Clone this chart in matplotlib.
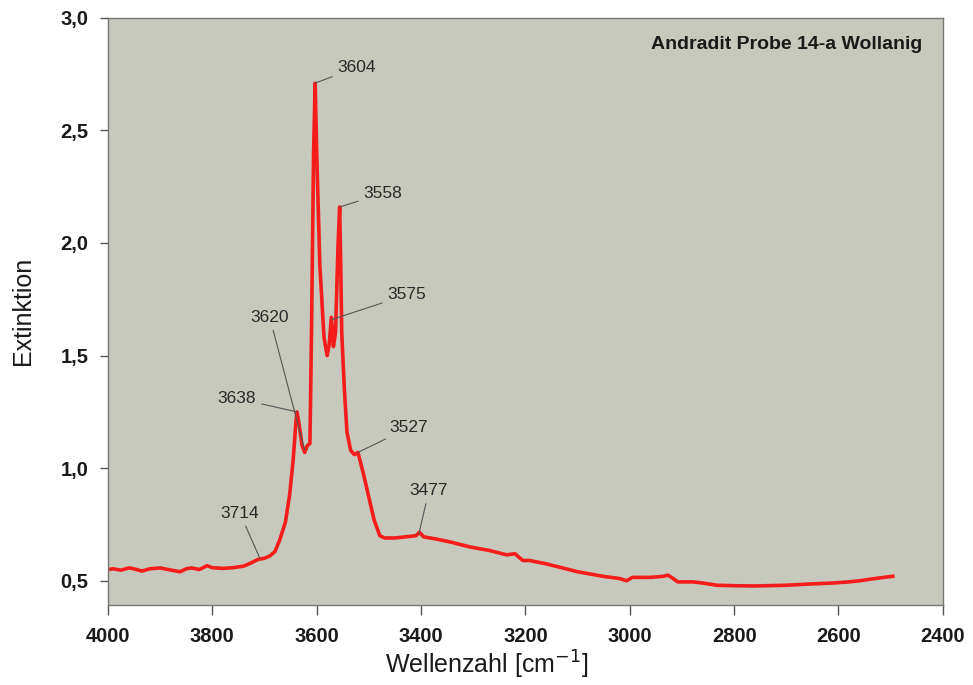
import matplotlib
matplotlib.use("Agg")
import matplotlib.pyplot as plt

# Spectrum (wavenumber cm^-1, extinction)
wavenumber = [4000, 3990, 3975, 3960, 3950, 3935, 3920, 3900, 3885, 3862, 3850, 3840,
              3825, 3810, 3800, 3780, 3760, 3740, 3725, 3712, 3700, 3690, 3680, 3671,
              3660, 3652, 3645, 3640, 3638, 3634, 3628, 3623, 3618, 3613, 3610, 3606,
              3603, 3600, 3594, 3586, 3580, 3576, 3572, 3568, 3564, 3559, 3556, 3554,
              3552, 3547, 3542, 3535, 3528, 3521, 3511, 3500, 3490, 3479, 3470, 3450,
              3430, 3410, 3403, 3395, 3370, 3340, 3306, 3270, 3236, 3220, 3210, 3205,
              3192, 3160, 3134, 3100, 3052, 3020, 3006, 2995, 2960, 2935, 2927, 2920,
              2908, 2880, 2860, 2847, 2833, 2800, 2760, 2738, 2700, 2660, 2611, 2580,
              2559, 2530, 2496]
extinction = [0.55, 0.553, 0.547, 0.557, 0.553, 0.543, 0.553, 0.557, 0.55, 0.54, 0.553, 0.557,
              0.55, 0.567, 0.558, 0.555, 0.558, 0.565, 0.58, 0.595, 0.60, 0.61, 0.63, 0.68,
              0.76, 0.88, 1.04, 1.20, 1.25, 1.20, 1.10, 1.07, 1.10, 1.11, 1.60, 2.40,
              2.71, 2.40, 1.90, 1.58, 1.50, 1.55, 1.67, 1.54, 1.60, 2.00, 2.16, 1.90,
              1.60, 1.35, 1.16, 1.08, 1.06, 1.07, 0.98, 0.87, 0.77, 0.70, 0.69, 0.69,
              0.695, 0.70, 0.715, 0.695, 0.685, 0.67, 0.65, 0.635, 0.615, 0.62, 0.60, 0.59,
              0.59, 0.575, 0.56, 0.54, 0.52, 0.51, 0.50, 0.515, 0.515, 0.52, 0.525, 0.515,
              0.495, 0.495, 0.49, 0.485, 0.48, 0.478, 0.477, 0.478, 0.48, 0.485, 0.49, 0.495,
              0.50, 0.51, 0.52]

# Peak annotations: label, point (x, y), text position (x, y)
peak_labels = ["3604", "3558", "3575", "3620", "3638", "3527", "3477", "3714"]
peak_xy = [(3603, 2.71), (3556, 2.16), (3571, 1.66), (3623, 1.08),
           (3638, 1.25), (3521, 1.07), (3404, 0.71), (3709, 0.60)]
label_xy = [(3523, 2.78), (3473, 2.22), (3427, 1.77), (3690, 1.67),
            (3753, 1.31), (3423, 1.18), (3385, 0.90), (3747, 0.80)]

x_ticks = [4000, 3800, 3600, 3400, 3200, 3000, 2800, 2600, 2400]
y_ticks = [0.5, 1.0, 1.5, 2.0, 2.5, 3.0]
y_ticklabels = ["0,5", "1,0", "1,5", "2,0", "2,5", "3,0"]
title_text = "Andradit Probe 14-a Wollanig"

plt.rcParams['font.family'] = ['Liberation Sans', 'DejaVu Sans']

fig = plt.figure(figsize=(9.73, 6.85), dpi=100)
ax = fig.add_axes([0.111, 0.117, 0.858, 0.857])
ax.set_facecolor('#c8c9bd')

ax.plot(wavenumber, extinction, color='#f51c1c', lw=2.6, solid_joinstyle='round', zorder=2)

for lab, pxy, txy in zip(peak_labels, peak_xy, label_xy):
    ax.annotate(lab, xy=pxy, xytext=txy, ha='center', va='center',
                fontsize=12.5, color='#2a2a2a', zorder=3,
                arrowprops=dict(arrowstyle='-', color='#555555', lw=0.8,
                                shrinkA=2, shrinkB=0))

ax.set_xlim(4000, 2400)
ax.set_ylim(0.393, 3.0)
ax.set_xticks(x_ticks)
ax.set_xticklabels([str(t) for t in x_ticks], fontsize=14.5, fontweight='bold', color='#1a1a1a')
ax.set_yticks(y_ticks)
ax.set_yticklabels(y_ticklabels, fontsize=14.5, fontweight='bold', color='#1a1a1a')
ax.tick_params(axis='x', direction='out', length=7, width=1, color='#555555', pad=9)
ax.tick_params(axis='y', direction='out', length=6, width=1, color='#555555', pad=8)

for s in ax.spines.values():
    s.set_color('#777777')
    s.set_linewidth(1.0)

ax.set_xlabel("Wellenzahl [cm$^{-1}$]", fontsize=18, color='#1a1a1a', labelpad=1)
ax.xaxis.set_label_coords(0.454, -0.075)
ax.set_ylabel("Extinktion", fontsize=18, color='#1a1a1a')
ax.yaxis.set_label_coords(-0.088, 0.5)

ax.text(0.975, 0.955, title_text, transform=ax.transAxes, ha='right', va='center',
        fontsize=14, fontweight='bold', color='#1a1a1a')

fig.savefig("out.png", dpi=100, facecolor='white')
